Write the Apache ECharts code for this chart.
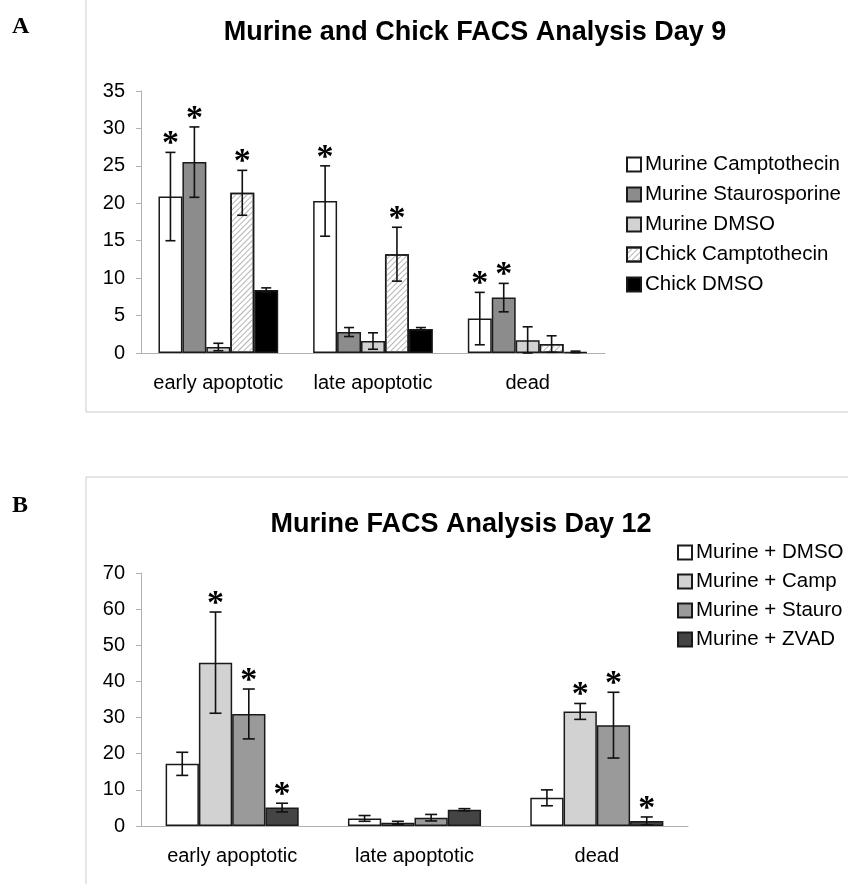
<!DOCTYPE html>
<html>
<head>
<meta charset="utf-8">
<script src="https://cdn.jsdelivr.net/npm/echarts@6/dist/echarts.min.js"></script>
<style>
  html, body { margin: 0; padding: 0; background: #fff; }
  #main { width: 848px; height: 884px; }
</style>
</head>
<body>
<div id="main"></div>
<script>
const categories = ['early apoptotic', 'late apoptotic', 'dead'];

// panel A, day 9
const namesA = ['Murine Camptothecin', 'Murine Staurosporine', 'Murine DMSO', 'Chick Camptothecin', 'Chick DMSO'];
const valuesA = [
  [20.9, 20.3, 4.6],
  [25.5, 2.8, 7.4],
  [0.8, 1.6, 1.7],
  [21.4, 13.2, 1.2],
  [8.4, 3.2, 0.15]
];
const errorsA = [
  [5.9, 4.7, 3.5],
  [4.7, 0.6, 1.9],
  [0.5, 1.1, 1.8],
  [3.0, 3.6, 1.1],
  [0.3, 0.2, 0.1]
];
const starsA = [
  [1, 1, 1],
  [1, 0, 1],
  [0, 0, 0],
  [1, 1, 0],
  [0, 0, 0]
];
const colorsA = ['#ffffff', '#8c8c8c', '#d2d2d2', '#ffffff', '#000000'];

// panel B, day 12
const namesB = ['Murine + DMSO', 'Murine + Camp', 'Murine + Stauro', 'Murine + ZVAD'];
const valuesB = [
  [17.2, 2.1, 7.8],
  [45.2, 0.9, 31.7],
  [31.0, 2.3, 27.9],
  [5.1, 4.5, 1.4]
];
const errorsB = [
  [3.2, 0.8, 2.2],
  [14.0, 0.4, 2.2],
  [6.9, 0.9, 9.1],
  [1.2, 0.3, 1.1]
];
const starsB = [
  [0, 0, 0],
  [1, 0, 1],
  [1, 0, 1],
  [1, 0, 1]
];
const colorsB = ['#ffffff', '#d2d2d2', '#9a9a9a', '#444444'];

const font = 'Liberation Sans';
const chart = echarts.init(document.getElementById('main'));

// error bar + star for bar i of n in a category
function errorBars(n, i, gap, cap) {
  return function(params, api) {
    const c = api.value(0), v = api.value(1), e = api.value(2), s = api.value(3);
    const band = api.size([1, 0])[0];
    const inner = band * (1 - gap);
    const w = inner / n;
    const x = api.coord([c, 0])[0] - inner / 2 + (i + 0.5) * w;
    const yTop = api.coord([c, v + e])[1];
    const yBot = api.coord([c, Math.max(v - e, 0)])[1];
    const ls = { stroke: '#111', lineWidth: 1.6 };
    const kids = [
      { type: 'line', shape: { x1: x, y1: yTop, x2: x, y2: yBot }, style: ls },
      { type: 'line', shape: { x1: x - cap, y1: yTop, x2: x + cap, y2: yTop }, style: ls },
      { type: 'line', shape: { x1: x - cap, y1: yBot, x2: x + cap, y2: yBot }, style: ls }
    ];
    if (s) {
      kids.push({ type: 'text', style: { text: '*', x: x, y: yTop - 8, fill: '#000',
        font: 'bold 34px Liberation Serif', align: 'center', verticalAlign: 'middle' } });
    }
    return { type: 'group', children: kids };
  };
}

const series = [];
function addGroup(names, values, errors, stars, colors, ax, gap, cap, hatched) {
  names.forEach(function(name, i) {
    const style = { color: colors[i], borderColor: '#1a1a1a', borderWidth: 1.5 };
    if (i === hatched) {
      style.decal = { symbol: 'rect', symbolSize: 1, dashArrayX: [1, 0], dashArrayY: [1, 2.5],
        rotation: -Math.PI / 4, color: '#b4b4b4' };
    }
    series.push({
      type: 'bar', name: name, xAxisIndex: ax, yAxisIndex: ax,
      barGap: '0%', barCategoryGap: (gap * 100) + '%',
      itemStyle: style, data: values[i], silent: true
    });
    series.push({
      type: 'custom', xAxisIndex: ax, yAxisIndex: ax, z: 5, silent: true,
      renderItem: errorBars(names.length, i, gap, cap),
      encode: { x: 0, y: 1 },
      data: values[i].map(function(v, c) { return [c, v, errors[i][c], stars[i][c]]; })
    });
  });
}
addGroup(namesA, valuesA, errorsA, starsA, colorsA, 0, 0.226, 5, 3);
addGroup(namesB, valuesB, errorsB, starsB, colorsB, 1, 0.27, 6, -1);

const axisLine = { lineStyle: { color: '#b0b0b0', width: 1 } };
function xAx(idx) {
  return {
    type: 'category', gridIndex: idx, data: categories,
    axisLine: axisLine, axisTick: { length: 7, lineStyle: { color: '#b0b0b0' } },
    axisLabel: { interval: 0, color: '#000', fontFamily: font, fontSize: 20, margin: 20 }
  };
}
function yAx(idx, max, step) {
  return {
    type: 'value', gridIndex: idx, min: 0, max: max, interval: step,
    axisLine: { show: true, lineStyle: { color: '#b0b0b0', width: 1 } },
    axisTick: { show: true, length: 5, lineStyle: { color: '#b0b0b0' } },
    splitLine: { show: false },
    axisLabel: { color: '#000', fontFamily: font, fontSize: 20, margin: 16 }
  };
}
const legendText = { color: '#000', fontFamily: font, fontSize: 20.5, padding: [0, 0, 0, -1] };

chart.setOption({
  animation: false,
  backgroundColor: '#fff',
  title: [
    { text: 'Murine and Chick FACS Analysis Day 9', left: 470, top: 14, textAlign: 'center',
      textStyle: { fontFamily: font, fontSize: 27, fontWeight: 'bold', color: '#000' } },
    { text: 'Murine FACS Analysis Day 12', left: 456, top: 506, textAlign: 'center',
      textStyle: { fontFamily: font, fontSize: 27, fontWeight: 'bold', color: '#000' } }
  ],
  legend: [
    { data: namesA, orient: 'vertical', left: 626, top: 154, padding: 0, itemWidth: 14, itemHeight: 14,
      itemGap: 9, icon: 'rect', selectedMode: false, textStyle: legendText },
    { data: namesB, orient: 'vertical', left: 677, top: 542, padding: 0, itemWidth: 14, itemHeight: 14,
      itemGap: 8, icon: 'rect', selectedMode: false, textStyle: legendText }
  ],
  grid: [
    { left: 141, top: 91, width: 464, height: 262 },
    { left: 141, top: 573, width: 547, height: 253 }
  ],
  xAxis: [xAx(0), xAx(1)],
  yAxis: [yAx(0, 35, 5), yAx(1, 70, 10)],
  series: series,
  graphic: [
    { type: 'polyline', silent: true, shape: { points: [[86, 0], [86, 412], [848, 412]] },
      style: { stroke: '#cccccc', lineWidth: 1, fill: null } },
    { type: 'polyline', silent: true, shape: { points: [[848, 477], [86, 477], [86, 884]] },
      style: { stroke: '#cccccc', lineWidth: 1, fill: null } },
    { type: 'text', left: 12, top: 15, silent: true,
      style: { text: 'A', font: 'bold 24px Liberation Serif', fill: '#000' } },
    { type: 'text', left: 12, top: 494, silent: true,
      style: { text: 'B', font: 'bold 24px Liberation Serif', fill: '#000' } }
  ]
});
</script>
</body>
</html>
